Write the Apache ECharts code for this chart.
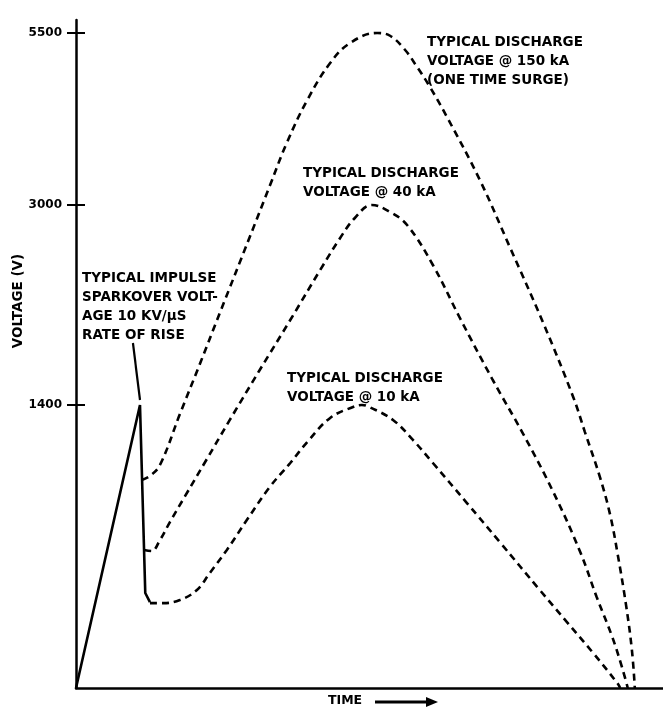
<!DOCTYPE html>
<html>
<head>
<meta charset="utf-8">
<script src="https://cdn.jsdelivr.net/npm/echarts@6/dist/echarts.min.js"></script>
<style>
html,body{margin:0;padding:0;background:#fff;}
#chart{width:663px;height:709px;}
</style>
</head>
<body>
<div id="chart"></div>
<script>
// ---- Data (time in arbitrary units 0..100, voltage in V) ----
const yTickVolts = [1400, 3000, 5500];

const impulseT = [0, 10.9, 11.8, 12.6];
const impulseV = [0, 1400, 470, 425];

const pointerT = [9.7, 10.9];
const pointerV = [1896, 1440];

const t10 = [12.6, 14.8, 17.7, 20.6, 22.8, 25.7, 29.1, 33.0, 36.5, 39.4, 43.3, 47.2, 48.7, 50.1, 54.0, 57.4, 60.8, 66.6, 72.2, 79.0, 83.6, 88.1, 92.2, 92.7];
const v10 = [420, 420, 435, 485, 569, 683, 831, 994, 1113, 1217, 1336, 1390, 1400, 1388, 1326, 1227, 1113, 915, 722, 485, 327, 173, 25, 0];

const t40 = [11.6, 12.9, 14.3, 16.0, 18.6, 22.0, 26.2, 31.3, 36.5, 41.6, 45.0, 47.5, 50.4, 53.5, 56.4, 60.8, 65.4, 71.0, 76.1, 81.3, 85.9, 88.7, 91.3, 93.0, 94.0];
const v40 = [683, 678, 732, 821, 950, 1118, 1326, 1680, 2080, 2480, 2736, 2896, 3000, 2944, 2840, 2520, 2096, 1600, 1261, 970, 673, 450, 257, 104, 0];

const t150 = [11.2, 12.6, 14.3, 17.7, 21.1, 24.5, 29.6, 33.0, 35.9, 39.4, 43.3, 46.7, 51.3, 53.5, 56.0, 58.0, 60.3, 63.2, 68.8, 73.9, 79.6, 84.7, 86.7, 89.3, 91.0, 92.3, 93.7, 94.7, 95.2];
const v150 = [1029, 1049, 1103, 1355, 1728, 2136, 2744, 3276, 3901, 4526, 5064, 5355, 5500, 5460, 5260, 5020, 4715, 4279, 3363, 2664, 2056, 1464, 1266, 1039, 856, 658, 411, 188, 0];

// ---- Schematic (non-linear) voltage axis: segment lengths between ticks ----
const segStops = [0, 1400, 3000, 5500];
const segLen = [283, 200, 172];
function toAxis(v) {
  let pos = 0;
  for (let i = 0; i < segLen.length; i++) {
    const a = segStops[i], b = segStops[i + 1];
    if (v <= b || i === segLen.length - 1) {
      return pos + (v - a) / (b - a) * segLen[i];
    }
    pos += segLen[i];
  }
  return pos;
}
const axisMax = 668;
const tickPos = yTickVolts.map(toAxis);
function labelFor(val) {
  for (let i = 0; i < tickPos.length; i++) {
    if (Math.abs(tickPos[i] - val) < 0.01) return String(yTickVolts[i]);
  }
  return '';
}
function pairs(ts, vs) { return ts.map((t, i) => [t, toAxis(vs[i])]); }

const FONT = 'DejaVu Sans';
const chart = echarts.init(document.getElementById('chart'), null, {renderer: 'canvas'});

const dashed = {color: '#000', width: 2.6, type: [7, 5]};

chart.setOption({
  backgroundColor: '#fff',
  animation: false,
  grid: {left: 76, right: 0, top: 20, bottom: 21},
  xAxis: {
    type: 'value', min: 0, max: 100,
    axisLine: {show: true, lineStyle: {color: '#000', width: 2.5}},
    axisTick: {show: false}, axisLabel: {show: false}, splitLine: {show: false}
  },
  yAxis: [{
    type: 'value', min: 0, max: axisMax,
    axisLine: {show: true, lineStyle: {color: '#000', width: 2.5}},
    axisTick: {show: true, length: 9, customValues: tickPos, lineStyle: {color: '#000', width: 2}},
    axisLabel: {show: true, customValues: tickPos, margin: 14, formatter: labelFor,
      color: '#000', fontFamily: FONT, fontWeight: 'bold', fontSize: 12},
    splitLine: {show: false}
  }, {
    type: 'value', min: 0, max: axisMax, position: 'left',
    axisLine: {show: false},
    axisTick: {show: true, inside: true, length: 9, customValues: tickPos, lineStyle: {color: '#000', width: 2}},
    axisLabel: {show: false}, splitLine: {show: false}
  }],
  series: [
    {type: 'line', name: 'impulse', data: pairs(impulseT, impulseV), symbol: 'none',
      lineStyle: {color: '#000', width: 2.6}},
    {type: 'line', name: 'pointer', data: pairs(pointerT, pointerV), symbol: 'none',
      lineStyle: {color: '#000', width: 2.2}},
    {type: 'line', name: '10 kA', data: pairs(t10, v10), symbol: 'none', smooth: 0.4, lineStyle: dashed},
    {type: 'line', name: '40 kA', data: pairs(t40, v40), symbol: 'none', smooth: 0.4, lineStyle: dashed},
    {type: 'line', name: '150 kA', data: pairs(t150, v150), symbol: 'none', smooth: 0.4, lineStyle: dashed}
  ],
  graphic: [
    {type: 'text', left: 82, top: 269, style: {text: 'TYPICAL IMPULSE\nSPARKOVER VOLT-\nAGE 10 KV/µS\nRATE OF RISE',
      font: 'bold 13.5px ' + FONT, fill: '#000', lineHeight: 19}},
    {type: 'text', left: 427, top: 33, style: {text: 'TYPICAL DISCHARGE\nVOLTAGE @ 150 kA\n(ONE TIME SURGE)',
      font: 'bold 13.5px ' + FONT, fill: '#000', lineHeight: 19}},
    {type: 'text', left: 303, top: 164, style: {text: 'TYPICAL DISCHARGE\nVOLTAGE @ 40 kA',
      font: 'bold 13.5px ' + FONT, fill: '#000', lineHeight: 19}},
    {type: 'text', left: 287, top: 369, style: {text: 'TYPICAL DISCHARGE\nVOLTAGE @ 10 kA',
      font: 'bold 13.5px ' + FONT, fill: '#000', lineHeight: 19}},
    {type: 'text', x: 18, y: 301, rotation: Math.PI / 2, style: {text: 'VOLTAGE (V)',
      font: 'bold 13.5px ' + FONT, fill: '#000', align: 'center', verticalAlign: 'middle'}},
    {type: 'text', x: 328, y: 701, style: {text: 'TIME',
      font: 'bold 12.5px ' + FONT, fill: '#000', align: 'left', verticalAlign: 'middle'}},
    {type: 'line', shape: {x1: 375, y1: 702, x2: 428, y2: 702}, style: {stroke: '#000', lineWidth: 3}},
    {type: 'polygon', shape: {points: [[426, 697], [438, 702], [426, 707]]}, style: {fill: '#000'}}
  ]
});
</script>
</body>
</html>
